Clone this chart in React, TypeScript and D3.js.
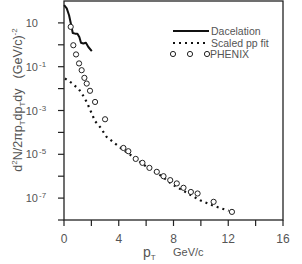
import React from 'react';
import * as d3 from 'd3';

// Dacelation (solid line), pT vs log10(yield)
const dacelPt = [0.01, 0.2, 0.37, 0.5, 0.64, 0.81, 0.98, 1.12, 1.24, 1.41, 1.6, 1.78, 2.03];
const dacelLog = [1.81, 1.66, 1.35, 0.97, 0.54, 0.51, 0.51, 0.36, 0.09, 0.06, 0.09, -0.1, -0.29];

// Scaled pp fit (dotted)
const ppPt = [0.07, 0.56, 1.1, 1.46, 1.71, 2.03, 2.27, 2.63, 3.12, 3.73, 4.29, 5.07, 6.05, 7.02, 8.0, 8.98, 9.95, 10.93, 12.03];
const ppLog = [-1.54, -1.74, -2.04, -2.38, -2.68, -3.14, -3.49, -3.75, -4.21, -4.51, -4.78, -5.12, -5.58, -5.95, -6.41, -6.76, -7.1, -7.35, -7.58];

// PHENIX points
const phxPt = [0.49, 0.68, 0.88, 1.1, 1.29, 1.49, 1.66, 1.9, 2.27, 3.0, 4.34, 4.7, 5.24, 5.73, 6.24, 6.78, 7.27, 7.76, 8.24, 8.73, 9.27, 9.76, 10.93, 12.27];
const phxLog = [0.82, -0.02, -0.44, -0.85, -1.16, -1.51, -1.77, -2.1, -2.61, -3.4, -4.71, -4.86, -5.21, -5.39, -5.62, -5.8, -6.0, -6.18, -6.33, -6.53, -6.72, -6.79, -7.17, -7.63];

const xTicks = [0, 4, 8, 12, 16];
const xMinor = [2, 6, 10, 14];
const yLabelExp = [1, -1, -3, -5, -7];
const yTickExp = [-8, -7, -6, -5, -4, -3, -2, -1, 0, 1];

const App: React.FC = () => {
  const width = 302;
  const height = 264;
  const left = 64, right = 283, top = 1, bottom = 220;

  const x = d3.scaleLinear().domain([0, 16]).range([left, right]);
  const y = d3.scaleLog().domain([1e-8, 1e2]).range([bottom, top]);

  const line = d3.line<[number, number]>()
    .x(d => x(d[0]))
    .y(d => y(Math.pow(10, d[1])));

  const dacel = dacelPt.map((p, i) => [p, dacelLog[i]] as [number, number]);
  const pp = ppPt.map((p, i) => [p, ppLog[i]] as [number, number]);

  const axisColor = '#222';
  const textColor = '#555';
  const font = 'Liberation Sans, Arial, sans-serif';

  return (
    <svg width={width} height={height} style={{ position: 'absolute', left: 0, top: 0 }} fontFamily={font}>
      <rect width={width} height={height} fill="#fff" />
      {/* frame */}
      <rect x={left} y={top} width={right - left} height={bottom - top} fill="none" stroke={axisColor} strokeWidth={1.3} />

      {/* y ticks */}
      {yTickExp.map(e => (
        <line key={e} x1={left - 6} x2={left} y1={y(Math.pow(10, e))} y2={y(Math.pow(10, e))} stroke={axisColor} strokeWidth={1.2} />
      ))}
      {yLabelExp.map(e => (
        <text key={e} x={38} y={y(Math.pow(10, e)) + 4} fontSize={11} fill={textColor} textAnchor="end">
          10
          {e !== 1 && <tspan x={39} dy={-4} fontSize={8} textAnchor="start">{e}</tspan>}
        </text>
      ))}

      {/* x ticks */}
      {[...xTicks, ...xMinor].map(t => (
        <line key={t} x1={x(t)} x2={x(t)} y1={bottom} y2={bottom + 6} stroke={axisColor} strokeWidth={1.2} />
      ))}
      {xTicks.map(t => (
        <text key={t} x={x(t)} y={243} fontSize={12} fill={textColor} textAnchor="middle">{t}</text>
      ))}

      {/* x title */}
      <text x={143} y={257} fontSize={14} fill={textColor}>
        p<tspan fontSize={8} dy={3}>T</tspan>
      </text>
      <text x={173} y={256} fontSize={11} fill={textColor}>GeV/c</text>

      {/* y title */}
      <text transform={`translate(22,${100}) rotate(-90)`} textAnchor="middle" fontSize={12.5} fill={textColor}>
        d<tspan fontSize={8} dy={-5}>2</tspan><tspan dy={5}>N/2πp</tspan><tspan fontSize={8} dy={3}>T</tspan><tspan dy={-3}>dp</tspan><tspan fontSize={8} dy={3}>T</tspan><tspan dy={-3}>dy</tspan><tspan dx={10}>(GeV/c)</tspan><tspan fontSize={8} dy={-5}>-2</tspan>
      </text>

      {/* data */}
      <path d={line(pp) || ''} fill="none" stroke="#111" strokeWidth={2.2} strokeDasharray="2,4" />
      <path d={line(dacel) || ''} fill="none" stroke="#111" strokeWidth={2} strokeLinejoin="round" />
      {phxPt.map((p, i) => (
        <circle key={i} cx={x(p)} cy={y(Math.pow(10, phxLog[i]))} r={2.6} fill="#fff" stroke="#222" strokeWidth={1} />
      ))}

      {/* legend */}
      <line x1={173} x2={209} y1={31} y2={31} stroke="#111" strokeWidth={2.2} />
      <text x={211} y={35} fontSize={10.5} fill={textColor}>Dacelation</text>
      <line x1={173} x2={209} y1={43} y2={43} stroke="#111" strokeWidth={2.2} strokeDasharray="2,4" />
      <text x={211} y={47} fontSize={10.5} fill={textColor}>Scaled pp fit</text>
      {[173, 190, 207].map(cx => (
        <circle key={cx} cx={cx} cy={54} r={2.6} fill="#fff" stroke="#222" strokeWidth={1} />
      ))}
      <text x={210} y={58} fontSize={10.5} fill={textColor}>PHENIX</text>
    </svg>
  );
};

export default App;
